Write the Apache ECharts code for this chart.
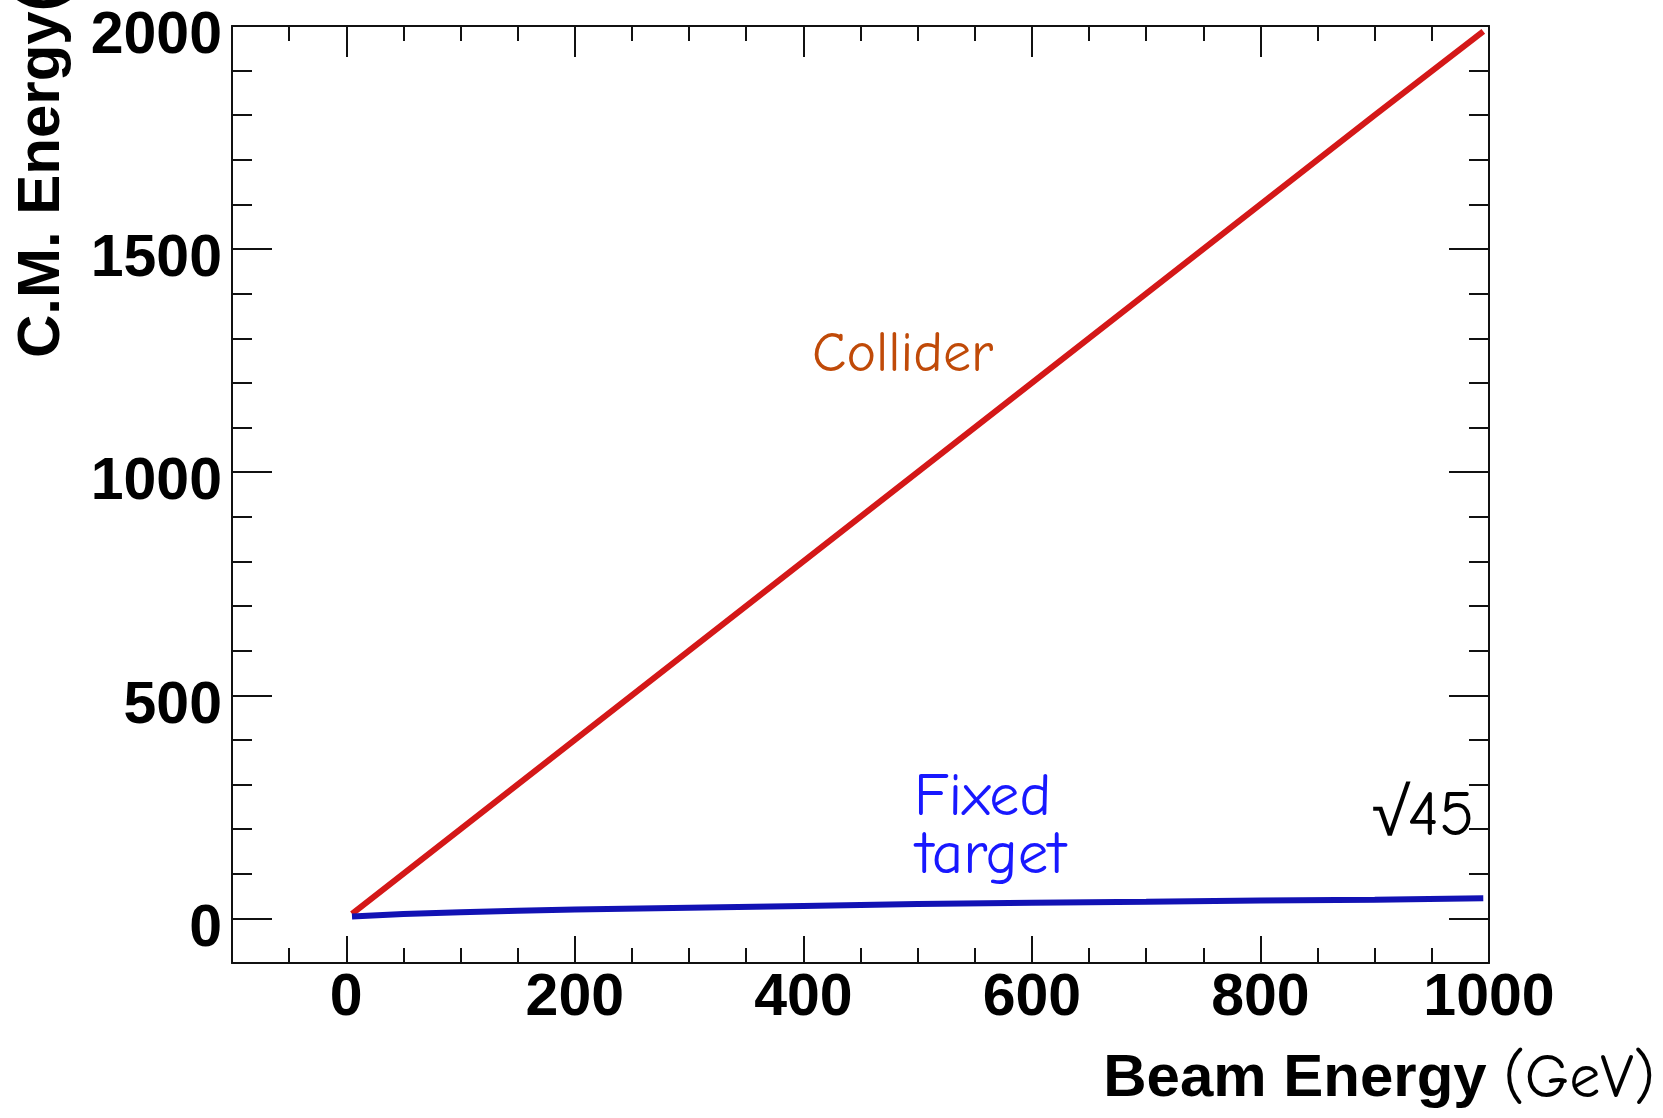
<!DOCTYPE html>
<html><head><meta charset="utf-8">
<script src="https://cdn.jsdelivr.net/npm/echarts@6/dist/echarts.min.js"></script>
<style>html,body{margin:0;padding:0;background:#fff}#c{width:1663px;height:1118px}</style>
</head><body><div id="c"></div>
<script>
// ---- data ----
const beamEnergyCollider = [5, 100, 200, 300, 400, 500, 600, 700, 800, 900, 995];
const cmEnergyCollider   = [10, 200, 400, 600, 800, 1000, 1200, 1400, 1600, 1800, 1988];
const beamEnergyFixed    = [5, 50, 100, 150, 200, 300, 400, 500, 600, 700, 800, 900, 995];
const cmEnergyFixed      = [4, 10, 14, 17, 20, 24, 28, 32, 35, 37, 40, 42, 45];
const xMajorTicks = [0, 200, 400, 600, 800, 1000];
const yMajorTicks = [0, 500, 1000, 1500, 2000];
const xRange = [-100, 1000];
const yRange = [-100, 2000];
const xMinorStep = 50;
const yMinorStep = 100;

const zip = (a, b) => a.map((v, i) => [v, b[i]]);
const comic = "'Comic Sans MS','Comic Neue','Open Sans','DejaVu Sans',sans-serif";
const helv = "'Liberation Sans',Arial,Helvetica,sans-serif";
const lineCol = '#111';

const gridRect = { left: 232, right: 174, top: 26, bottom: 155, containLabel: false, outerBoundsMode: 'none' };

function xAx(gridIndex, position, major, majorLen) {
  const o = {
    gridIndex, position, type: 'value', min: xRange[0], max: xRange[1],
    axisLine: { show: major, onZero: false, lineStyle: { color: lineCol, width: 2 } },
    axisTick: major
      ? { show: true, inside: true, length: majorLen || 27, customValues: xMajorTicks, lineStyle: { color: lineCol, width: 2 } }
      : { show: true, inside: true, length: 15, lineStyle: { color: lineCol, width: 2 } },
    axisLabel: { show: false },
    splitLine: { show: false }
  };
  if (!major) o.interval = xMinorStep;
  return o;
}
function yAx(gridIndex, position, major) {
  const o = {
    gridIndex, position, type: 'value', min: yRange[0], max: yRange[1],
    axisLine: { show: major, onZero: false, lineStyle: { color: lineCol, width: 2 } },
    axisTick: major
      ? { show: true, inside: true, length: 40, customValues: yMajorTicks, lineStyle: { color: lineCol, width: 2 } }
      : { show: true, inside: true, length: 20, lineStyle: { color: lineCol, width: 2 } },
    axisLabel: { show: false },
    splitLine: { show: false }
  };
  if (!major) o.interval = yMinorStep;
  return o;
}

const xBottom = xAx(0, 'bottom', true, 27);
xBottom.axisLabel = { show: true, customValues: xMajorTicks, margin: 6, color: '#000',
  fontFamily: helv, fontWeight: 'bold', fontSize: 59, formatter: v => String(v) };
xBottom.name = '{a|Beam Energy }{b|(GeV)}';
xBottom.nameLocation = 'end';
xBottom.nameGap = 166;
xBottom.nameMoveOverlap = false;
xBottom.nameTextStyle = { align: 'right', verticalAlign: 'top', padding: [84, 0, 0, 0],
  rich: {
    a: { fontFamily: helv, fontWeight: 'bold', fontSize: 60, color: '#000', lineHeight: 64 },
    b: { fontFamily: comic, fontSize: 62, color: '#000', lineHeight: 64 }
  } };

const yLeft = yAx(0, 'left', true);
yLeft.axisLabel = { show: true, customValues: yMajorTicks, margin: 10, color: '#000',
  fontFamily: helv, fontWeight: 'bold', fontSize: 59, verticalAlign: 'top', lineHeight: 22,
  formatter: v => String(v) };
yLeft.name = 'C.M. Energy(GeV)';
yLeft.nameLocation = 'end';
yLeft.nameRotate = 90;
yLeft.nameGap = -332;
yLeft.nameMoveOverlap = false;
yLeft.nameTextStyle = { align: 'left', verticalAlign: 'bottom', fontFamily: helv, fontWeight: 'bold',
  fontSize: 60, color: '#000', lineHeight: 60, padding: [0, 0, 160, 0] };

const option = {
  animation: false,
  backgroundColor: '#fff',
  grid: [Object.assign({}, gridRect), Object.assign({}, gridRect)],
  xAxis: [xBottom, xAx(0, 'top', true, 31), xAx(1, 'bottom', false), xAx(1, 'top', false)],
  yAxis: [yLeft, yAx(0, 'right', true), yAx(1, 'left', false), yAx(1, 'right', false)],
  series: [
    { name: 'Collider', type: 'line', xAxisIndex: 0, yAxisIndex: 0, data: zip(beamEnergyCollider, cmEnergyCollider),
      showSymbol: false, lineStyle: { color: '#d41818', width: 6 }, itemStyle: { color: '#d41818' }, z: 3 },
    { name: 'Fixed target', type: 'line', xAxisIndex: 0, yAxisIndex: 0, data: zip(beamEnergyFixed, cmEnergyFixed),
      showSymbol: false, lineStyle: { color: '#1212b4', width: 6 }, itemStyle: { color: '#1212b4' }, z: 4 }
  ],
  graphic: [
    { type: 'text', x: 812, y: 355, style: { text: 'Collider', font: "56px " + comic, fill: '#c04a08', verticalAlign: 'middle', align: 'left' } },
    { type: 'text', x: 914, y: 798, style: { text: 'Fixed', font: "60px " + comic, fill: '#1818ff', verticalAlign: 'middle', align: 'left' } },
    { type: 'text', x: 916, y: 856, style: { text: 'target', font: "61px " + comic, fill: '#1818ff', verticalAlign: 'middle', align: 'left' } },
    { type: 'text', x: 1372, y: 817, style: { text: '√45', font: "65px " + comic, fill: '#000', verticalAlign: 'middle', align: 'left' } }
  ]
};
const chart = echarts.init(document.getElementById('c'), null, { renderer: 'canvas' });
chart.setOption(option);
</script></body></html>
